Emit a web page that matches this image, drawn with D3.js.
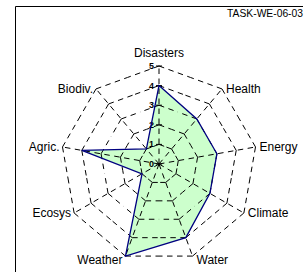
<!DOCTYPE html>
<html><head><meta charset="utf-8">
<script src="https://cdn.jsdelivr.net/npm/d3@7"></script>
<style>html,body{margin:0;padding:0;background:#fff;}svg{display:block;}</style>
</head><body>
<svg id="c" width="308" height="272"></svg>
<script>
const categories = ["Disasters","Health","Energy","Climate","Water","Weather","Ecosys","Agric.","Biodiv."];
const values = [4,3,3,3,4,5,1,4,1];
const tickLabels = [0,1,2,3,4,5];
const title = "TASK-WE-06-03";

const svg = d3.select("#c");
const W = 308, H = 272;
const cx = 159, cy = 164;
const r = d3.scaleLinear().domain([0,5]).range([0,98]);
const ang = d3.scaleLinear().domain([0, categories.length]).range([0, 2*Math.PI]);
const pt = (i, v) => [cx + r(v)*Math.sin(ang(i)), cy - r(v)*Math.cos(ang(i))];
const font = "Liberation Sans, Arial, sans-serif";

// frame
svg.append("path").attr("d", `M15.5,${H+2} L15.5,6.5 L303,6.5`)
  .attr("fill","none").attr("stroke","#000").attr("stroke-width",1);
svg.append("text").attr("x",303).attr("y",17).attr("text-anchor","end")
  .attr("font-family",font).attr("font-size",10.3).text(title);

// data fill
const line = d3.line().curve(d3.curveLinearClosed);
const pts = values.map((v,i)=>pt(i,v));
svg.append("path").attr("d", line(pts)).attr("fill","#ccffcc").attr("stroke","none");

// grid: each polygon edge drawn as two halves starting at the vertices
const g = svg.append("g").attr("fill","none").attr("stroke","#000").attr("stroke-width",1).attr("stroke-dasharray","5.5,4.5");
const n = categories.length;
tickLabels.filter(t=>t>0).forEach(t=>{
  categories.forEach((c,i)=>{
    const a = pt(i,t), b = pt((i+1)%n,t);
    const m = [(a[0]+b[0])/2,(a[1]+b[1])/2];
    g.append("line").attr("x1",a[0]).attr("y1",a[1]).attr("x2",m[0]).attr("y2",m[1]);
    g.append("line").attr("x1",b[0]).attr("y1",b[1]).attr("x2",m[0]).attr("y2",m[1]);
  });
});
categories.forEach((c,i)=>{
  const [x,y] = pt(i,5);
  g.append("line").attr("x1",cx).attr("y1",cy).attr("x2",x).attr("y2",y);
});
// tick marks + labels on first axis
tickLabels.forEach(t=>{
  const y = cy - r(t);
  svg.append("line").attr("x1",cx-3).attr("x2",cx+3).attr("y1",y).attr("y2",y).attr("stroke","#000");
  svg.append("text").attr("x",cx-5).attr("y",y+3).attr("text-anchor","end")
    .attr("font-family",font).attr("font-weight","bold").attr("font-size",9).text(t);
});

// data outline
svg.append("path").attr("d", line(pts)).attr("fill","none").attr("stroke","#000080").attr("stroke-width",1.3);

// category labels
categories.forEach((c,i)=>{
  const [x,y] = pt(i,5);
  const s = Math.sin(ang(i)), co = Math.cos(ang(i));
  let anchor = Math.abs(s) < 0.1 ? "middle" : (s > 0 ? "start" : "end");
  let tx = x + (Math.abs(s) < 0.1 ? 0 : (s>0 ? 4 : -3));
  let ty = y + 4;
  if (Math.abs(s) < 0.1) ty = y - 9;
  if (co < -0.9) ty = y + 8;
  svg.append("text").attr("x",tx).attr("y",ty).attr("text-anchor",anchor)
    .attr("font-family",font).attr("font-size",12).text(c);
});
</script>
</body></html>
